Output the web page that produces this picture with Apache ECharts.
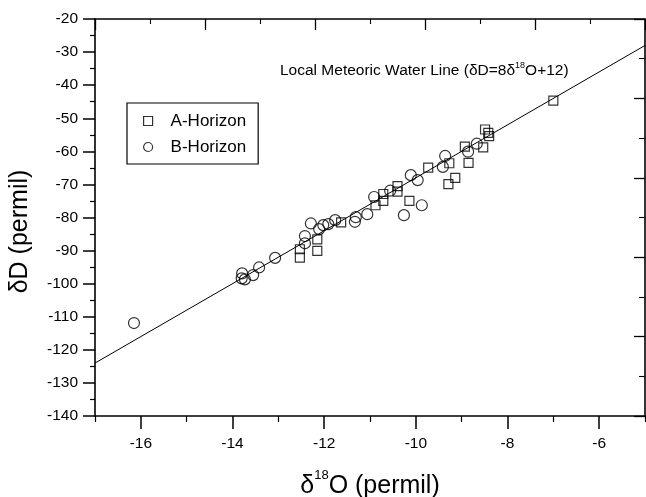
<!DOCTYPE html>
<html>
<head>
<meta charset="utf-8">
<script src="https://cdn.jsdelivr.net/npm/echarts@6/dist/echarts.min.js"></script>
<style>
  html, body { margin: 0; padding: 0; background: #fff; }
  #chart { width: 646px; height: 497px; }
</style>
</head>
<body>
<div id="chart"></div>
<script>
var FONT = '"Liberation Sans", Arial, sans-serif';

// A-Horizon (squares)
var aX = [-7.00, -8.49, -8.42, -8.40, -8.53, -8.93, -8.85, -9.27, -9.14, -9.29, -9.73,
  -10.14, -10.40, -10.40, -10.71, -10.71, -10.88, -11.63, -12.15, -12.15, -12.53, -12.53];
var aY = [-44.7, -53.4, -54.4, -55.4, -58.8, -58.6, -63.5, -63.6, -68.0, -69.9, -64.9,
  -75.0, -70.5, -72.2, -72.9, -75.0, -76.3, -81.5, -86.6, -90.1, -89.6, -92.1];

// B-Horizon (circles)
var bX = [-16.15, -13.79, -13.80, -13.73, -13.55, -13.42, -13.07, -12.42, -12.42, -12.29,
  -12.11, -12.02, -11.91, -11.76, -11.33, -11.31, -11.06, -10.91, -10.56, -10.26, -9.87,
  -10.11, -9.96, -9.41, -9.36, -8.86, -8.67];
var bY = [-111.9, -96.9, -98.4, -98.7, -97.4, -95.1, -92.2, -85.6, -87.8, -81.8,
  -83.5, -82.3, -82.0, -80.8, -81.3, -79.9, -79.0, -73.8, -71.9, -79.3, -76.3,
  -67.2, -68.7, -64.7, -61.4, -60.1, -57.7];

// local meteoric water line end points
var lineX = [-17, -5];
var lineY = [-124, -28];

var xMajor = [-16, -14, -12, -10, -8, -6];
var xMinor = [-17, -15, -13, -11, -9, -7, -5];

function pairs(xs, ys) {
  return xs.map(function(x, i) { return [x, ys[i]]; });
}

var chart = echarts.init(document.getElementById('chart'), null, { renderer: 'canvas' });
chart.setOption({
  animation: false,
  textStyle: { fontFamily: FONT, color: '#000' },
  grid: { left: 95, right: 1, top: 19, bottom: 81, containLabel: false, outerBoundsMode: 'none' },
  xAxis: [
    {
      type: 'value', position: 'bottom', min: -17, max: -5,
      name: '{d|\u03b4}{s|18}{d|O (permil)}',
      nameLocation: 'middle', nameGap: 53, nameMoveOverlap: false,
      nameTextStyle: {
        rich: {
          d: { fontSize: 25, fontFamily: FONT, color: '#000', verticalAlign: 'bottom', lineHeight: 30 },
          s: { fontSize: 13, fontFamily: FONT, color: '#000', verticalAlign: 'top', lineHeight: 30, padding: [0, 0, 17, 0] }
        }
      },
      axisLine: { lineStyle: { color: '#000', width: 1.6 } },
      axisTick: { customValues: xMajor, length: 13, lineStyle: { color: '#000', width: 1.5 } },
      axisLabel: { customValues: xMajor, fontSize: 15.5, color: '#000', margin: 20, fontFamily: FONT },
      splitLine: { show: false }
    },
    {
      type: 'value', position: 'bottom', min: -17, max: -5,
      axisLine: { show: false },
      axisTick: { customValues: xMinor, length: 6, lineStyle: { color: '#000', width: 1.2 } },
      axisLabel: { show: false },
      splitLine: { show: false }
    },
    {
      type: 'value', position: 'top', min: 0, max: 10, interval: 2,
      axisLine: { lineStyle: { color: '#000', width: 1.6 } },
      axisTick: { inside: true, length: 11, lineStyle: { color: '#000', width: 1.3 } },
      minorTick: { show: true, splitNumber: 2, length: 5, lineStyle: { color: '#000', width: 1.1 } },
      axisLabel: { show: false },
      splitLine: { show: false }
    }
  ],
  yAxis: [
    {
      type: 'value', position: 'left', min: -140, max: -20, interval: 10,
      name: '\u03b4D (permil)',
      nameLocation: 'middle', nameGap: 62, nameMoveOverlap: false,
      nameTextStyle: { fontSize: 25, color: '#000', fontFamily: FONT, padding: [0, 28, 0, 0] },
      axisLine: { lineStyle: { color: '#000', width: 1.6 } },
      axisTick: { length: 12, lineStyle: { color: '#000', width: 1.5 } },
      minorTick: { show: true, splitNumber: 2, length: 5, lineStyle: { color: '#000', width: 1.2 } },
      axisLabel: { fontSize: 15.5, color: '#000', margin: 17, fontFamily: FONT },
      splitLine: { show: false }
    },
    {
      type: 'value', position: 'right', min: 0, max: 10, interval: 2,
      axisLine: { lineStyle: { color: '#000', width: 1.6 } },
      axisTick: { inside: true, length: 11, lineStyle: { color: '#000', width: 1.3 } },
      minorTick: { show: true, splitNumber: 2, length: 6, lineStyle: { color: '#000', width: 1.1 } },
      axisLabel: { show: false },
      splitLine: { show: false }
    }
  ],
  legend: {
    orient: 'vertical', left: 127, top: 103,
    padding: [9, 12, 8, 16],
    borderColor: '#000', borderWidth: 1.2,
    itemWidth: 9, itemHeight: 9, itemGap: 8,
    itemStyle: { color: 'transparent', borderColor: '#000', borderWidth: 1.2 },
    textStyle: { fontSize: 17, color: '#000', fontFamily: FONT, lineHeight: 18, padding: [0, 0, 0, 13] },
    data: [
      { name: 'A-Horizon', icon: 'rect' },
      { name: 'B-Horizon', icon: 'circle' }
    ]
  },
  graphic: [{
    type: 'text', left: 280, top: 61,
    style: {
      text: '{n|Local Meteoric Water Line (\u03b4D=8\u03b4}{s|18}{n|O+12)}',
      rich: {
        n: { fontSize: 15.5, fontFamily: FONT, fill: '#000', lineHeight: 18, verticalAlign: 'bottom' },
        s: { fontSize: 9, fontFamily: FONT, fill: '#000', lineHeight: 18, verticalAlign: 'top' }
      }
    }
  }],
  series: [
    {
      type: 'line', name: 'LMWL', data: pairs(lineX, lineY),
      showSymbol: false, symbol: 'none',
      lineStyle: { color: '#000', width: 1 },
      silent: true, z: 1
    },
    {
      type: 'scatter', name: 'A-Horizon', data: pairs(aX, aY),
      symbol: 'rect', symbolSize: 9,
      itemStyle: { color: 'transparent', borderColor: '#000', borderWidth: 1.2 },
      z: 3
    },
    {
      type: 'scatter', name: 'B-Horizon', data: pairs(bX, bY),
      symbol: 'circle', symbolSize: 11,
      itemStyle: { color: 'transparent', borderColor: '#000', borderWidth: 1.2 },
      z: 3
    }
  ]
});
window.addEventListener('resize', function() { chart.resize(); });
</script>
</body>
</html>
